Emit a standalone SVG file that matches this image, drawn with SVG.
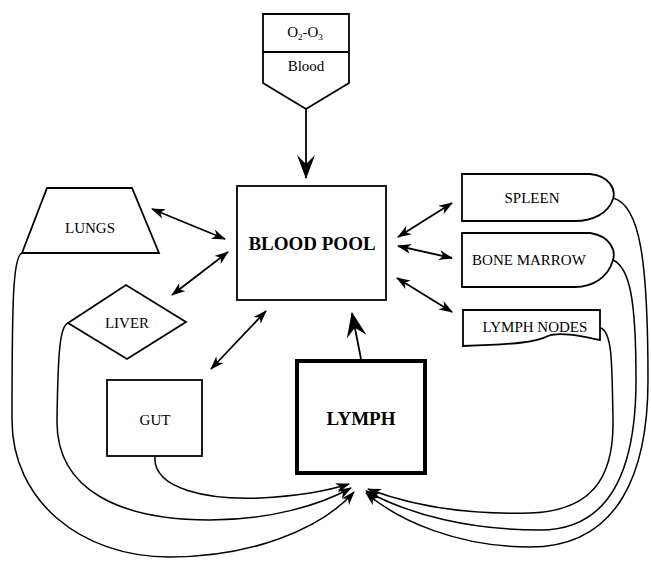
<svg xmlns="http://www.w3.org/2000/svg" width="651" height="563" viewBox="0 0 651 563">
<style>
  .shape { fill: #fff; stroke: #000; stroke-width: 1.8; }
  .thick { fill: #fff; stroke: #000; stroke-width: 4; }
  .lbl { font-family: "Liberation Serif", "Times New Roman", serif; font-size: 15px; fill: #000; text-anchor: middle; }
  .big { font-family: "Liberation Serif", "Times New Roman", serif; font-size: 19px; font-weight: bold; fill: #000; text-anchor: middle; }
  .conn { fill: none; stroke: #000; stroke-width: 1.8; }
  .curve { fill: none; stroke: #000; stroke-width: 1.5; }
</style>
<defs>
  <marker id="ah" viewBox="0 0 14 10" refX="13" refY="5" markerWidth="14" markerHeight="10" markerUnits="userSpaceOnUse" orient="auto-start-reverse">
    <path d="M0,0 L14,5 L0,10 L4,5 Z" fill="#000"/>
  </marker>
  <marker id="ahBig" viewBox="0 0 24 18" refX="23" refY="9" markerWidth="24" markerHeight="18" markerUnits="userSpaceOnUse" orient="auto">
    <path d="M0,0 L24,9 L0,18 L9,9 Z" fill="#000"/>
  </marker>
  <marker id="ahThick" viewBox="0 0 25 20" refX="24" refY="10" markerWidth="25" markerHeight="20" markerUnits="userSpaceOnUse" orient="auto">
    <path d="M0,0 L25,10 L0,20 L9,10 Z" fill="#000"/>
  </marker>
</defs>
<rect width="651" height="563" fill="#fff"/>

<g id="ozone-blood">
  <path class="shape" d="M263,14 L349,14 L349,83 L306,109 L263,83 Z"/>
  <line x1="263" y1="52" x2="349" y2="52" stroke="#000" stroke-width="1.8"/>
  <text class="lbl" x="305" y="37" font-size="14">O<tspan font-size="9" dy="3">2</tspan><tspan dy="-3">-O</tspan><tspan font-size="9" dy="3">3</tspan></text>
  <text class="lbl" x="306" y="71" font-size="14">Blood</text>
</g>

<g id="blood-pool">
  <rect class="shape" x="237" y="186" width="149" height="114"/>
  <text class="big" x="312" y="250">BLOOD POOL</text>
</g>

<g id="lungs">
  <polygon class="shape" points="47,188 132,188 159,253 22,253"/>
  <text class="lbl" x="90" y="233">LUNGS</text>
</g>

<g id="liver">
  <polygon class="shape" points="68,323 126,285 186,322 127,359"/>
  <text class="lbl" x="127" y="328">LIVER</text>
</g>

<g id="gut">
  <rect class="shape" x="107" y="380" width="95" height="76"/>
  <text class="lbl" x="155" y="425">GUT</text>
</g>

<g id="lymph">
  <rect class="thick" x="297" y="361" width="128" height="112"/>
  <text class="big" x="361" y="425">LYMPH</text>
</g>

<g id="spleen">
  <path class="shape" d="M462,174 L590,174 C610,176 616,190 613,199 C608,214 592,221 575,221 L462,221 Z"/>
  <text class="lbl" x="532" y="203">SPLEEN</text>
</g>

<g id="bone-marrow">
  <path class="shape" d="M462,233 L590,233 C610,236 616,250 613,260 C608,278 592,287 575,287 L462,287 Z"/>
  <text class="lbl" x="529" y="265">BONE MARROW</text>
</g>

<g id="lymph-nodes">
  <path class="shape" d="M463,310 L600,310 L600,340 C585,337 560,331 548,336 C536,342 520,344 463,346 Z"/>
  <text class="lbl" x="535" y="332">LYMPH NODES</text>
</g>

<g id="connectors">
  <line class="conn" x1="306" y1="109" x2="306" y2="178" marker-end="url(#ahBig)"/>
  <line class="conn" x1="361" y1="359" x2="352" y2="313" stroke-width="3.5" marker-end="url(#ahThick)"/>

  <line class="conn" x1="152" y1="209" x2="225" y2="239" marker-start="url(#ah)" marker-end="url(#ah)"/>
  <line class="conn" x1="172" y1="295" x2="228" y2="252" marker-start="url(#ah)" marker-end="url(#ah)"/>
  <line class="conn" x1="211" y1="369" x2="266" y2="311" marker-start="url(#ah)" marker-end="url(#ah)"/>

  <line class="conn" x1="398" y1="237" x2="452" y2="203" marker-start="url(#ah)" marker-end="url(#ah)"/>
  <line class="conn" x1="398" y1="246" x2="452" y2="258" marker-start="url(#ah)" marker-end="url(#ah)"/>
  <line class="conn" x1="397" y1="278" x2="452" y2="312" marker-start="url(#ah)" marker-end="url(#ah)"/>

  <path class="curve" d="M155,456 C152,490 210,500 260,498 C300,496 330,490 349,484" marker-end="url(#ah)"/>
  <path class="curve" d="M68,323 C60,326 58,350 57,420 C56,490 120,520 210,520 C270,520 320,505 351,488" marker-end="url(#ah)"/>
  <path class="curve" d="M22,253 C13,256 12,300 12,420 C12,500 80,557 170,557 C250,557 320,530 354,492" marker-end="url(#ah)"/>

  <path class="curve" d="M613,198 C640,205 648,260 648,380 C648,470 620,547 530,547 C460,547 400,522 366,493" marker-end="url(#ah)"/>
  <path class="curve" d="M613,260 C630,268 636,300 636,380 C636,470 610,530 540,530 C470,530 410,515 366,491" marker-end="url(#ah)"/>
  <path class="curve" d="M601,328 C612,333 612,360 613,420 C614,480 590,511 530,513 C460,515 410,505 368,489" marker-end="url(#ah)"/>
</g>
</svg>
